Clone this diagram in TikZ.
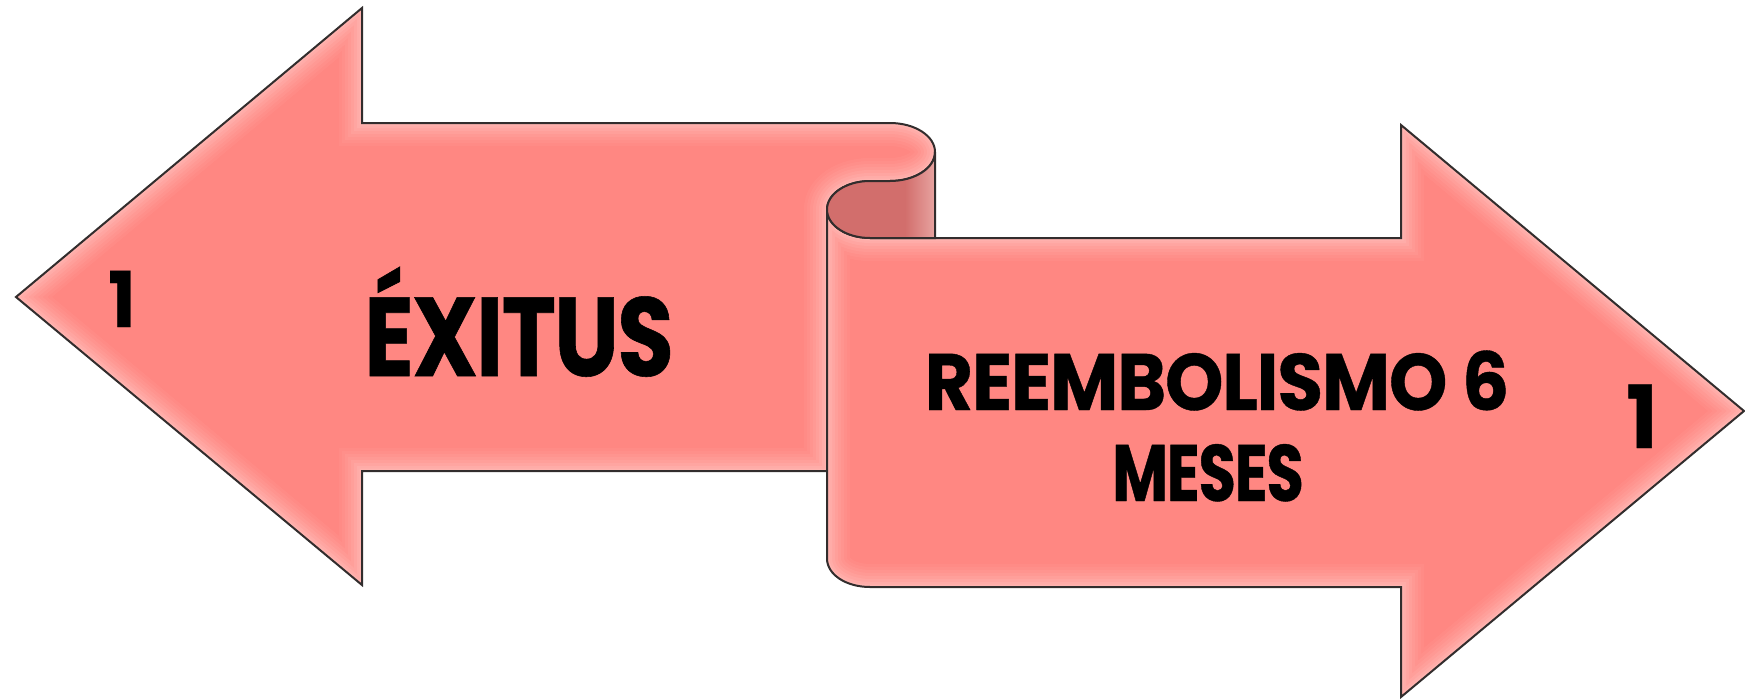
\documentclass[tikz,border=0pt]{standalone}
\usepackage{fontspec}
\newfontfamily\popex{Poppins Bold}[FakeStretch=0.82,FakeBold=0.5,LetterSpace=-1.5]
\newfontfamily\popre{Poppins Bold}[FakeStretch=0.93,FakeBold=0.5,LetterSpace=-1.5]
\newfontfamily\popme{Poppins Bold}[FakeStretch=0.76,FakeBold=0.5,LetterSpace=-1.5]
\newfontfamily\popone{Poppins Bold}[FakeStretch=0.95,FakeBold=0.5]
\definecolor{pinkfill}{RGB}{255,135,130}
\definecolor{darkfill}{RGB}{210,110,108}
\definecolor{darklight}{RGB}{232,165,162}
\definecolor{outc}{RGB}{50,45,45}
\begin{document}
\begin{tikzpicture}[x=1pt,y=-1pt,
  outl/.style={draw=outc,line width=2pt,line join=miter},
  lbl/.style={inner sep=0pt,anchor=base,text=black}]
\useasboundingbox (0,0) rectangle (1745,699);
% paths
\path[save path=\leftp] (16,297) -- (362,8) -- (362,123) -- (890,123)
  .. controls (914.9,123) and (935,136) .. (935,152)
  .. controls (935,168) and (914.9,181) .. (890,181) -- (870,181)
  .. controls (846.3,181) and (827,193.8) .. (827,209.5)
  -- (827,471) -- (362,471) -- (362,585) -- cycle;
\path[save path=\rightp] (870,238) -- (1401,238) -- (1401,125) -- (1744,411)
  -- (1401,697) -- (1401,587) -- (870,587)
  .. controls (846.3,587) and (827,574.7) .. (827,558.5)
  -- (827,209.5) .. controls (827,225.2) and (846.3,238) .. (870,238) -- cycle;
\path[save path=\darkp] (935,152) .. controls (935,168) and (914.9,181) .. (890,181)
  -- (870,181) .. controls (846.3,181) and (827,193.8) .. (827,209.5)
  .. controls (827,225.2) and (846.3,238) .. (870,238) -- (935,238) -- cycle;
% left arrow
\fill[pinkfill,use path=\leftp];
\begin{scope}
  \clip[use path=\leftp];
  \foreach \w/\o in {46/.04,40/.04,34/.05,28/.05,22/.06,16/.07,10/.08,5/.09}
    {\draw[white,opacity=\o,line width=\w pt,use path=\leftp];}
\end{scope}
\draw[outl,use path=\leftp];
% right arrow
\fill[pinkfill,use path=\rightp];
\begin{scope}
  \clip[use path=\rightp];
  \foreach \w/\o in {46/.04,40/.04,34/.05,28/.05,22/.06,16/.07,10/.08,5/.09}
    {\draw[white,opacity=\o,line width=\w pt,use path=\rightp];}
\end{scope}
\draw[outl,use path=\rightp];
% dark back of the scroll
\fill[darkfill,use path=\darkp];
\begin{scope}
  \clip[use path=\darkp];
  \shade[left color=darkfill,right color=darklight] (905,150) rectangle (936,240);
\end{scope}
\draw[outl,use path=\darkp];
% labels
\node[lbl,font=\popone\fontsize{77}{80}\selectfont] (n1) at (122,327) {1};
\node[lbl,font=\popex\fontsize{112}{120}\selectfont] (ex) at (519,376) {ÉXITUS};
\node[lbl,font=\popre\fontsize{80}{90}\selectfont] (re) at (1217,410) {REEMBOLISMO 6};
\node[lbl,font=\popme\fontsize{80}{90}\selectfont] (me) at (1208,501) {MESES};
\node[lbl,font=\popone\fontsize{87}{90}\selectfont] (n2) at (1642,448) {1};
\end{tikzpicture}
\end{document}
